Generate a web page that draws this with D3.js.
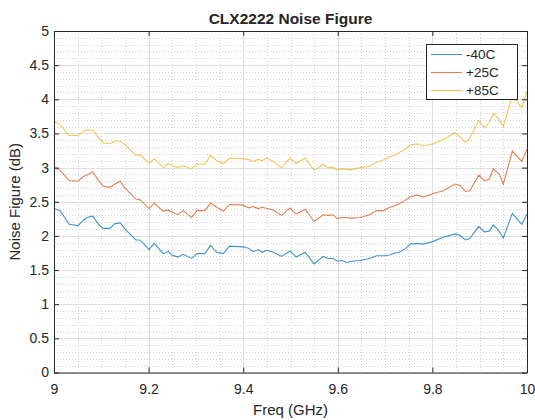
<!DOCTYPE html>
<html>
<head>
<meta charset="utf-8">
<script src="https://cdn.jsdelivr.net/npm/d3@7"></script>
<style>
  body { margin: 0; background: #fff; }
  text { font-family: "Liberation Sans", Arial, sans-serif; fill: #262626; }
</style>
</head>
<body>
<div class="chart"></div>
<script>
// frequency points (GHz)
var freq = [9.000, 9.013, 9.032, 9.051, 9.062, 9.070, 9.082, 9.094, 9.104, 9.118,
            9.129, 9.140, 9.150, 9.173, 9.182, 9.201, 9.212, 9.231, 9.242, 9.249,
            9.262, 9.273, 9.291, 9.302, 9.319, 9.331, 9.344, 9.358, 9.371, 9.400,
            9.411, 9.421, 9.432, 9.440, 9.450, 9.464, 9.481, 9.499, 9.512, 9.531,
            9.550, 9.569, 9.580, 9.590, 9.599, 9.608, 9.619, 9.629, 9.647, 9.667,
            9.682, 9.696, 9.710, 9.721, 9.730, 9.742, 9.753, 9.767, 9.781, 9.802,
            9.823, 9.848, 9.858, 9.870, 9.879, 9.898, 9.910, 9.920, 9.929, 9.941,
            9.950, 9.969, 9.989, 10.000];

var nfMinus40 = [2.40, 2.37, 2.17, 2.15, 2.23, 2.27, 2.29, 2.17, 2.11, 2.11,
                 2.18, 2.19, 2.10, 1.94, 1.94, 1.80, 1.89, 1.74, 1.77, 1.72,
                 1.69, 1.73, 1.67, 1.74, 1.74, 1.86, 1.76, 1.74, 1.85, 1.84,
                 1.82, 1.77, 1.80, 1.76, 1.79, 1.76, 1.70, 1.78, 1.69, 1.76,
                 1.59, 1.70, 1.67, 1.67, 1.63, 1.64, 1.61, 1.63, 1.64, 1.67,
                 1.71, 1.71, 1.72, 1.75, 1.76, 1.81, 1.88, 1.89, 1.88, 1.92,
                 1.98, 2.03, 2.01, 1.94, 1.96, 2.14, 2.06, 2.07, 2.16, 2.07,
                 1.97, 2.33, 2.17, 2.32];

var nfPlus25 = [3.00, 2.96, 2.81, 2.80, 2.87, 2.89, 2.94, 2.81, 2.73, 2.71,
                2.76, 2.80, 2.70, 2.54, 2.53, 2.40, 2.48, 2.36, 2.38, 2.35,
                2.31, 2.37, 2.27, 2.37, 2.37, 2.48, 2.42, 2.36, 2.46, 2.45,
                2.41, 2.43, 2.40, 2.42, 2.40, 2.38, 2.30, 2.41, 2.32, 2.39,
                2.21, 2.31, 2.30, 2.31, 2.25, 2.27, 2.27, 2.26, 2.27, 2.31,
                2.37, 2.37, 2.42, 2.44, 2.47, 2.52, 2.57, 2.60, 2.57, 2.62,
                2.66, 2.76, 2.74, 2.65, 2.66, 2.89, 2.81, 2.83, 2.98, 2.91,
                2.76, 3.24, 3.09, 3.27];

var nfPlus85 = [3.68, 3.63, 3.47, 3.47, 3.53, 3.55, 3.55, 3.44, 3.36, 3.35,
                3.39, 3.39, 3.34, 3.18, 3.19, 3.06, 3.13, 3.00, 3.06, 3.03,
                3.00, 3.03, 2.98, 3.05, 3.05, 3.18, 3.10, 3.06, 3.14, 3.13,
                3.12, 3.09, 3.12, 3.10, 3.14, 3.09, 3.00, 3.14, 3.06, 3.14,
                2.96, 3.05, 3.00, 3.00, 2.97, 2.98, 2.97, 2.97, 3.00, 3.02,
                3.08, 3.11, 3.16, 3.18, 3.22, 3.27, 3.33, 3.35, 3.32, 3.35,
                3.41, 3.51, 3.45, 3.37, 3.43, 3.69, 3.58, 3.66, 3.79, 3.71,
                3.60, 4.05, 3.88, 4.12];

var seriesNames = ["-40C", "+25C", "+85C"];
var seriesColors = ["#0072BD", "#D95319", "#EDB120"];
var xTicks = [9, 9.2, 9.4, 9.6, 9.8, 10];
var yTicks = [0, 0.5, 1, 1.5, 2, 2.5, 3, 3.5, 4, 4.5, 5];

var width = 535, height = 420;
var margin = {top: 31, right: 8, bottom: 47.5, left: 54};
var w = width - margin.left - margin.right;
var h = height - margin.top - margin.bottom;

var svg = d3.select(".chart").append("svg")
            .attr("width", width)
            .attr("height", height);

var g = svg.append("g")
           .attr("transform", "translate(" + margin.left + "," + margin.top + ")");

var x = d3.scaleLinear().domain([9, 10]).range([0, w]);
var y = d3.scaleLinear().domain([0, 5]).range([h, 0]);

// minor grid (dotted)
var xMinor = d3.range(9, 10.0001, 0.05).map(function(d) { return +d.toFixed(2); });
var yMinor = d3.range(0, 5.0001, 0.1).map(function(d) { return +d.toFixed(1); });

g.append("g").selectAll("line").data(xMinor).enter().append("line")
 .attr("x1", function(d) { return Math.round(x(d)) + 0.5; })
 .attr("x2", function(d) { return Math.round(x(d)) + 0.5; })
 .attr("y1", 0).attr("y2", h)
 .attr("stroke", "#d2d2d2").attr("stroke-dasharray", "1,2");

g.append("g").selectAll("line").data(yMinor).enter().append("line")
 .attr("y1", function(d) { return Math.round(y(d)) + 0.5; })
 .attr("y2", function(d) { return Math.round(y(d)) + 0.5; })
 .attr("x1", 0).attr("x2", w)
 .attr("stroke", "#d2d2d2").attr("stroke-dasharray", "1,2");

// major grid
g.append("g").selectAll("line").data(xTicks).enter().append("line")
 .attr("x1", function(d) { return Math.round(x(d)) + 0.5; })
 .attr("x2", function(d) { return Math.round(x(d)) + 0.5; })
 .attr("y1", 0).attr("y2", h)
 .attr("stroke", "#dedede");

g.append("g").selectAll("line").data(yTicks).enter().append("line")
 .attr("y1", function(d) { return Math.round(y(d)) + 0.5; })
 .attr("y2", function(d) { return Math.round(y(d)) + 0.5; })
 .attr("x1", 0).attr("x2", w)
 .attr("stroke", "#dedede");

// lines
var allSeries = [nfMinus40, nfPlus25, nfPlus85];
var line = d3.line()
             .x(function(d, i) { return x(freq[i]); })
             .y(function(d) { return y(d); });

allSeries.forEach(function(s, k) {
  g.append("path")
   .datum(s)
   .attr("d", line)
   .attr("fill", "none")
   .attr("stroke", seriesColors[k])
   .attr("stroke-opacity", 0.75)
   .attr("stroke-width", 1.1);
});

// axes (MATLAB style, inward ticks on all sides)
var fmt = function(d) { return String(d); };
var axisColor = "#262626";

var xAxis = g.append("g").attr("transform", "translate(0," + h + ")")
             .call(d3.axisBottom(x).tickValues(xTicks).tickFormat(fmt).tickSizeInner(-5).tickSizeOuter(0).tickPadding(12));
var xTop = g.append("g")
            .call(d3.axisTop(x).tickValues(xTicks).tickFormat("").tickSizeInner(-5).tickSizeOuter(0));
var yAxis = g.append("g")
             .call(d3.axisLeft(y).tickValues(yTicks).tickFormat(fmt).tickSizeInner(-5).tickSizeOuter(0).tickPadding(5));
var yRight = g.append("g").attr("transform", "translate(" + w + ",0)")
              .call(d3.axisRight(y).tickValues(yTicks).tickFormat("").tickSizeInner(-5).tickSizeOuter(0));

[xAxis, xTop, yAxis, yRight].forEach(function(a) {
  a.select(".domain").attr("stroke", axisColor);
  a.selectAll(".tick line").attr("stroke", axisColor);
  a.selectAll("text").attr("fill", axisColor)
   .style("font-size", "14px")
   .style("font-family", "'Liberation Sans', Arial, sans-serif");
});

// title and labels
svg.append("text")
   .attr("x", margin.left + w / 2)
   .attr("y", 24)
   .attr("text-anchor", "middle")
   .style("font-size", "15.5px")
   .style("font-weight", "bold")
   .attr("fill", "#000")
   .text("CLX2222 Noise Figure");

svg.append("text")
   .attr("x", margin.left + w / 2)
   .attr("y", 415)
   .attr("text-anchor", "middle")
   .style("font-size", "15px")
   .text("Freq (GHz)");

svg.append("text")
   .attr("transform", "translate(20," + (margin.top + h / 2) + ") rotate(-90)")
   .attr("text-anchor", "middle")
   .style("font-size", "15px")
   .text("Noise Figure (dB)");

// legend
var legend = g.append("g").attr("transform", "translate(" + (w - 101) + ",13)");

legend.append("rect")
      .attr("x", 0.5).attr("y", 0.5)
      .attr("width", 91).attr("height", 55)
      .attr("fill", "#fff")
      .attr("stroke", axisColor);

seriesNames.forEach(function(name, k) {
  legend.append("line")
        .attr("x1", 5).attr("x2", 36)
        .attr("y1", 10.5 + k * 18).attr("y2", 10.5 + k * 18)
        .attr("stroke", seriesColors[k])
        .attr("stroke-opacity", 0.75)
        .attr("stroke-width", 1.1);
  legend.append("text")
        .attr("x", 40)
        .attr("y", 15 + k * 18)
        .style("font-size", "13.5px")
        .text(name);
});
</script>
</body>
</html>
